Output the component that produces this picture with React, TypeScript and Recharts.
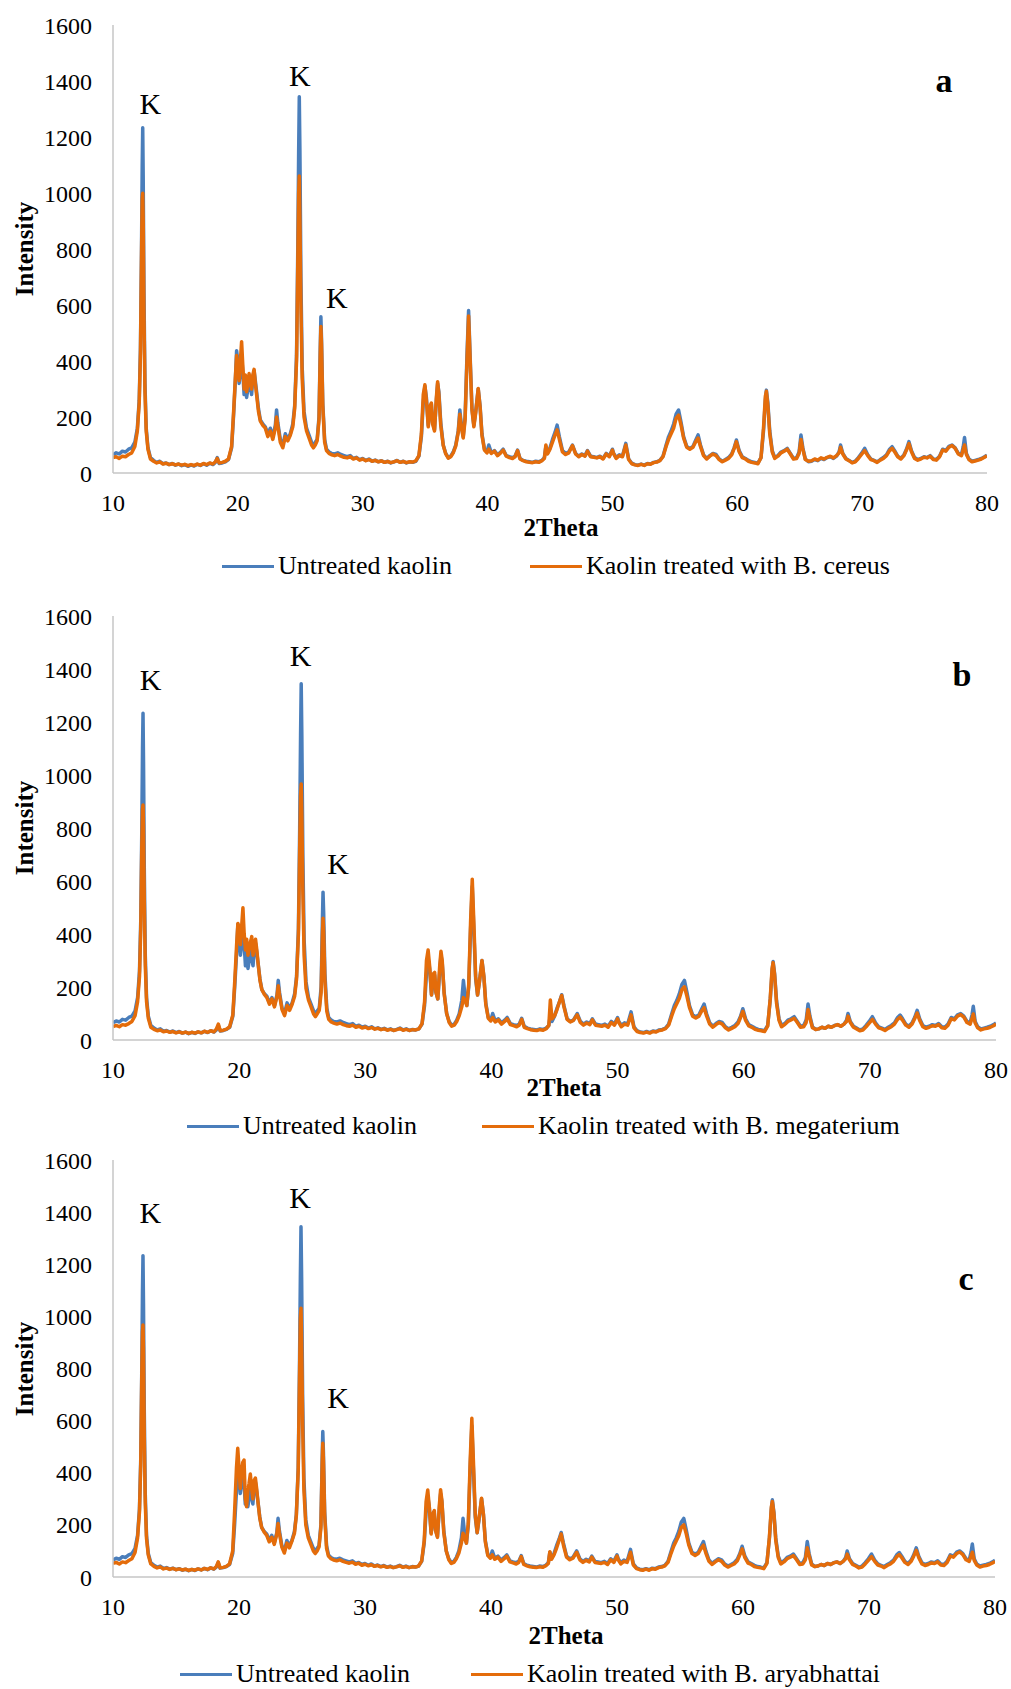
import { LineChart, Line, XAxis, YAxis, ReferenceDot } from 'recharts';

// 2Theta grid shared by all patterns (denser around the sharp peaks)
const theta = [
  10, 10.25, 10.5, 10.75, 11, 11.25, 11.5, 11.75, 11.95, 12.1,
  12.2, 12.28, 12.34, 12.38, 12.42, 12.48, 12.56, 12.66, 12.8, 13,
  13.25, 13.5, 13.75, 14, 14.25, 14.5, 14.75, 15, 15.25, 15.5,
  15.75, 16, 16.25, 16.5, 16.75, 17, 17.25, 17.5, 17.75, 18,
  18.2, 18.35, 18.5, 18.75, 19, 19.25, 19.5, 19.65, 19.8, 19.9,
  20, 20.1, 20.2, 20.3, 20.4, 20.5, 20.6, 20.7, 20.8, 20.9,
  21, 21.1, 21.2, 21.3, 21.4, 21.5, 21.65, 21.8, 22, 22.2,
  22.4, 22.6, 22.8, 23, 23.1, 23.2, 23.4, 23.6, 23.8, 24,
  24.2, 24.4, 24.55, 24.7, 24.8, 24.87, 24.92, 24.97, 25.05, 25.15,
  25.3, 25.5, 25.7, 25.9, 26.05, 26.2, 26.35, 26.5, 26.6, 26.65,
  26.7, 26.8, 26.95, 27.1, 27.3, 27.5, 27.75, 28, 28.25, 28.5,
  28.75, 29, 29.25, 29.5, 29.75, 30, 30.25, 30.5, 30.75, 31,
  31.25, 31.5, 31.75, 32, 32.25, 32.5, 32.75, 33, 33.25, 33.5,
  33.75, 34, 34.25, 34.5, 34.7, 34.85, 34.98, 35.1, 35.25, 35.4,
  35.5, 35.6, 35.75, 35.9, 36, 36.1, 36.25, 36.45, 36.65, 36.85,
  37.05, 37.25, 37.45, 37.65, 37.78, 37.9, 38.05, 38.2, 38.35, 38.48,
  38.6, 38.75, 38.9, 39.05, 39.25, 39.4, 39.55, 39.75, 39.95, 40.1,
  40.3, 40.55, 40.8, 41.05, 41.25, 41.5, 41.75, 42, 42.2, 42.4,
  42.6, 42.85, 43.1, 43.35, 43.6, 43.85, 44.1, 44.35, 44.55, 44.67,
  44.8, 45, 45.2, 45.4, 45.57, 45.75, 46, 46.25, 46.5, 46.8,
  47.05, 47.3, 47.55, 47.8, 48, 48.25, 48.5, 48.75, 49, 49.25,
  49.5, 49.75, 50, 50.1, 50.3, 50.55, 50.8, 51.07, 51.3, 51.55,
  51.8, 52.05, 52.3, 52.55, 52.8, 53.05, 53.3, 53.55, 53.8, 54.05,
  54.3, 54.5, 54.7, 54.9, 55.1, 55.3, 55.5, 55.7, 55.95, 56.2,
  56.45, 56.65, 56.86, 57.05, 57.3, 57.55, 57.8, 58.05, 58.3, 58.55,
  58.8, 59.05, 59.3, 59.55, 59.75, 59.93, 60.15, 60.4, 60.65, 60.9,
  61.15, 61.4, 61.65, 61.9, 62.1, 62.25, 62.33, 62.45, 62.6, 62.8,
  63, 63.25, 63.5, 63.75, 64, 64.25, 64.5, 64.75, 64.95, 65.1,
  65.25, 65.45, 65.7, 65.95, 66.2, 66.45, 66.7, 66.95, 67.2, 67.45,
  67.7, 67.95, 68.15, 68.27, 68.45, 68.7, 68.95, 69.2, 69.45, 69.7,
  69.95, 70.2, 70.45, 70.7, 70.95, 71.2, 71.45, 71.7, 71.95, 72.2,
  72.4, 72.6, 72.85, 73.1, 73.35, 73.55, 73.75, 73.95, 74.2, 74.45,
  74.7, 74.95, 75.2, 75.45, 75.7, 75.95, 76.2, 76.45, 76.7, 76.95,
  77.2, 77.45, 77.7, 77.95, 78.1, 78.2, 78.35, 78.55, 78.8, 79.05,
  79.3, 79.55, 79.8, 80,
];

const untreated = [
  65, 72, 68, 78, 75, 85, 90, 110, 160, 260,
  450, 780, 1100, 1233, 1050, 650, 320, 160, 90, 55,
  45, 38, 42, 33, 36, 30, 34, 28, 32, 26,
  30, 24, 29, 25, 31, 27, 33, 28, 35, 30,
  38, 55, 34, 36, 40, 48, 90, 200, 330, 437,
  400, 320, 360, 420, 360, 280, 330, 270, 300, 340,
  310, 280, 340, 365, 330, 290, 230, 190, 175, 165,
  140, 160, 130, 170, 225, 180, 120, 100, 140, 120,
  140, 175, 240, 420, 800, 1150, 1344, 1150, 700, 380,
  220, 160, 135, 110, 95, 110, 120, 200, 450, 558,
  480, 250, 120, 85, 75, 70, 68, 72, 66, 62,
  58, 62, 52, 56, 48, 52, 45, 50, 42, 46,
  40, 44, 38, 42, 36, 40, 45, 38, 42, 36,
  40, 38, 42, 60, 130, 250, 310, 270, 170, 230,
  245, 180, 155, 260, 320, 290, 180, 100, 70, 55,
  60, 75, 100, 150, 225, 170, 130, 200, 420, 580,
  420, 230, 170, 220, 300, 240, 140, 85, 75, 100,
  72, 80, 65, 75, 85, 62, 58, 55, 60, 82,
  52, 45, 42, 40, 38, 42, 40, 45, 55, 95,
  70, 90, 120, 145, 171, 130, 80, 70, 75, 100,
  70, 60, 68, 62, 80, 60, 58, 55, 60, 52,
  70, 60, 85, 70, 55, 65, 60, 106, 50, 35,
  30, 28, 32, 28, 34, 32, 38, 40, 45, 60,
  100, 130, 150, 175, 210, 225, 180, 130, 95, 88,
  95, 115, 136, 100, 65, 52, 62, 70, 66, 50,
  42, 48, 55, 68, 90, 118, 80, 58, 52, 45,
  40, 38, 35, 55, 150, 260, 296, 250, 150, 80,
  55, 62, 75, 80, 88, 70, 52, 55, 75, 136,
  90, 50, 40, 42, 48, 44, 52, 48, 55, 58,
  52, 60, 75, 100, 70, 52, 45, 38, 42, 55,
  70, 88, 65, 50, 45, 40, 48, 55, 65, 85,
  94, 80, 60, 52, 65, 85, 112, 80, 55, 48,
  52, 58, 55, 62, 50, 48, 60, 85, 80, 95,
  100, 90, 70, 65, 95, 127, 70, 50, 42, 45,
  48, 52, 58, 64,
];

const cereus = [
  55, 58, 52, 60, 58, 66, 72, 95, 150, 250,
  430, 760, 980, 999, 900, 560, 290, 150, 85, 50,
  42, 36, 40, 32, 35, 30, 33, 29, 32, 28,
  31, 26, 30, 27, 32, 28, 34, 30, 36, 32,
  40, 52, 36, 38, 42, 50, 95, 210, 340, 420,
  360, 330, 400, 469, 380, 300, 350, 290, 320, 355,
  320, 300, 350, 370, 320, 280, 220, 185, 170, 160,
  130, 150, 120, 160, 200, 170, 110, 90, 130, 115,
  135, 165, 230, 400, 750, 1000, 1061, 900, 600, 340,
  200, 150, 125, 100, 90, 100, 115, 190, 430, 523,
  460, 240, 110, 80, 70, 65, 62, 66, 60, 56,
  54, 58, 50, 54, 46, 50, 44, 48, 42, 45,
  40, 43, 38, 41, 37, 40, 44, 38, 41, 37,
  40, 39, 43, 62, 140, 280, 315, 260, 165, 240,
  250, 175, 150, 270, 326, 280, 170, 98, 68, 53,
  58, 72, 96, 145, 210, 165, 125, 190, 400, 561,
  410, 225, 165, 215, 302, 235, 135, 82, 72, 85,
  70, 78, 62, 72, 82, 60, 55, 52, 58, 80,
  50, 44, 40, 38, 37, 40, 38, 44, 52, 100,
  68, 85, 110, 135, 154, 120, 75, 66, 72, 98,
  68, 58, 66, 60, 78, 58, 56, 54, 58, 50,
  68, 58, 82, 68, 52, 62, 58, 100, 48, 33,
  29, 27, 31, 27, 33, 31, 37, 39, 44, 58,
  95, 120, 140, 160, 195, 207, 170, 125, 92, 85,
  92, 110, 125, 95, 62, 50, 60, 68, 62, 48,
  40, 46, 52, 65, 88, 112, 76, 55, 50, 42,
  38, 36, 33, 55, 160, 275, 292, 240, 140, 75,
  52, 60, 72, 78, 85, 68, 50, 52, 70, 120,
  85, 48, 42, 44, 50, 46, 54, 50, 56, 60,
  54, 62, 72, 92, 68, 50, 44, 36, 40, 52,
  66, 80, 62, 48, 44, 38, 46, 52, 62, 80,
  88, 76, 58, 50, 62, 82, 105, 76, 52, 46,
  50, 56, 54, 60, 48, 46, 58, 82, 78, 92,
  98, 88, 68, 62, 85, 100, 66, 48, 40, 43,
  46, 50, 56, 62,
];

const megaterium = [
  50, 55, 50, 58, 56, 62, 70, 92, 145, 240,
  420, 720, 870, 887, 800, 520, 280, 145, 82, 48,
  40, 35, 38, 31, 34, 29, 32, 27, 31, 26,
  30, 25, 29, 26, 31, 27, 33, 29, 35, 31,
  42, 60, 35, 37, 41, 50, 95, 220, 360, 440,
  420, 360, 430, 499, 400, 340, 380, 320, 345, 370,
  390, 320, 360, 380, 340, 290, 225, 190, 172, 160,
  135, 155, 125, 165, 205, 170, 115, 92, 130, 112,
  135, 165, 230, 400, 720, 920, 966, 850, 560, 320,
  195, 150, 125, 98, 88, 100, 112, 180, 390, 459,
  410, 220, 108, 78, 68, 64, 60, 64, 58, 54,
  52, 56, 48, 52, 45, 49, 43, 47, 41, 44,
  39, 42, 37, 40, 36, 39, 43, 37, 40, 36,
  39, 38, 42, 62, 145, 300, 340, 280, 170, 250,
  255, 180, 155, 280, 335, 300, 175, 100, 66, 52,
  56, 70, 92, 125, 160, 150, 130, 210, 450, 607,
  450, 240, 170, 220, 300, 240, 135, 82, 72, 85,
  68, 76, 60, 70, 80, 58, 54, 50, 56, 78,
  48, 43, 39, 37, 36, 39, 37, 43, 55, 151,
  80, 90, 115, 145, 168, 125, 78, 68, 74, 95,
  66, 56, 64, 58, 76, 56, 54, 52, 56, 48,
  66, 56, 80, 66, 50, 60, 56, 95, 46, 32,
  28, 26, 30, 26, 32, 30, 36, 38, 43, 56,
  92, 118, 138, 158, 190, 201, 165, 122, 90, 83,
  90, 108, 122, 92, 60, 48, 58, 66, 60, 46,
  38, 44, 50, 62, 85, 108, 74, 53, 48, 40,
  37, 35, 32, 52, 155, 270, 292, 245, 140, 74,
  50, 58, 70, 76, 82, 66, 48, 50, 66, 115,
  82, 46, 40, 42, 48, 44, 52, 48, 54, 58,
  52, 60, 70, 90, 66, 48, 42, 35, 38, 50,
  64, 78, 60, 46, 42, 36, 44, 50, 60, 78,
  86, 74, 56, 48, 60, 80, 102, 74, 50, 44,
  48, 54, 52, 58, 46, 44, 56, 80, 76, 90,
  96, 86, 66, 60, 82, 98, 64, 46, 38, 42,
  44, 48, 54, 60,
];

const aryabhattai = [
  52, 56, 50, 58, 55, 63, 70, 94, 150, 250,
  430, 760, 940, 967, 870, 540, 285, 148, 84, 50,
  41, 35, 39, 31, 34, 29, 33, 28, 31, 27,
  30, 25, 29, 26, 31, 27, 33, 29, 35, 31,
  40, 58, 35, 37, 41, 50, 100, 250, 420, 494,
  420, 340, 400, 440, 449, 300, 270, 330, 360, 395,
  340, 300, 370, 380, 340, 290, 225, 190, 172, 160,
  135, 152, 125, 165, 205, 170, 115, 92, 130, 112,
  138, 168, 235, 410, 760, 990, 1031, 900, 590, 335,
  200, 150, 125, 100, 90, 100, 115, 190, 430, 513,
  450, 235, 110, 80, 70, 65, 62, 66, 60, 56,
  53, 57, 49, 53, 45, 49, 43, 47, 41, 44,
  39, 42, 37, 40, 36, 39, 43, 37, 40, 36,
  39, 38, 42, 62, 140, 290, 334, 270, 165, 245,
  255, 178, 152, 275, 335, 295, 172, 100, 66, 52,
  56, 70, 92, 130, 168, 150, 130, 210, 450, 609,
  450, 240, 170, 225, 302, 240, 135, 82, 72, 85,
  68, 76, 60, 70, 80, 58, 54, 50, 56, 78,
  48, 43, 39, 37, 36, 39, 37, 43, 52, 97,
  68, 85, 110, 140, 165, 122, 76, 66, 72, 95,
  66, 56, 64, 58, 76, 56, 54, 52, 56, 48,
  66, 56, 80, 66, 50, 60, 56, 95, 46, 32,
  28, 26, 30, 26, 32, 30, 36, 38, 43, 56,
  92, 118, 138, 158, 190, 200, 165, 122, 90, 83,
  90, 108, 122, 92, 60, 48, 58, 66, 60, 46,
  38, 44, 50, 62, 85, 108, 74, 53, 48, 40,
  37, 35, 32, 52, 155, 268, 290, 245, 140, 74,
  50, 58, 70, 76, 82, 66, 48, 50, 66, 112,
  82, 46, 40, 42, 48, 44, 52, 48, 54, 58,
  52, 60, 70, 88, 66, 48, 42, 35, 38, 50,
  64, 78, 60, 46, 42, 36, 44, 50, 60, 78,
  86, 74, 56, 48, 60, 80, 102, 74, 50, 44,
  48, 54, 52, 58, 46, 44, 56, 80, 76, 90,
  96, 86, 66, 60, 80, 95, 64, 46, 38, 42,
  44, 48, 54, 60,
];

const xTicks = [10, 20, 30, 40, 50, 60, 70, 80];
const yTicks = [0, 200, 400, 600, 800, 1000, 1200, 1400, 1600];

// "K" (kaolinite) annotations, in data coordinates
const kMarksA = [{ x: 13.0, y: 1321 }, { x: 24.97, y: 1420 }, { x: 27.93, y: 627 }];
const kMarksB = [{ x: 12.97, y: 1362 }, { x: 24.87, y: 1451 }, { x: 27.84, y: 666 }];
const kMarksC = [{ x: 12.97, y: 1399 }, { x: 24.84, y: 1456 }, { x: 27.86, y: 691 }];

const BLUE = '#4A7EBB';
const ORANGE = '#E46C0A';
const AXIS = '#C6C6C6';
const FONT = '"Liberation Serif", "Times New Roman", serif';

type Mark = { x: number; y: number };
type PanelProps = {
  treated: number[];
  treatedName: string;
  kMarks: Mark[];
  letter: string;
  top: number;
  plotTop: number;
  plotBottom: number;
  plotRight: number;
  letterPos: [number, number];
  titlePos: [number, number];
  legendY: number;
  legendLeft: number;
  legendGap: number;
};

function LegendItem({ color, name }: { color: string; name: string }) {
  return (
    <div style={{ display: 'flex', alignItems: 'center' }}>
      <span style={{ display: 'inline-block', width: 52, height: 3, background: color, marginRight: 4 }} />
      <span>{name}</span>
    </div>
  );
}

function Panel(p: PanelProps) {
  const rows = theta.map((t, i) => ({ t, untreated: untreated[i], treated: p.treated[i] }));
  const chartH = p.plotBottom - p.top + 50;
  const plotMid = (p.plotTop + p.plotBottom) / 2;
  const centered = { position: 'absolute' as const, whiteSpace: 'nowrap' as const, lineHeight: 1, fontFamily: FONT, color: '#000' };
  return (
    <>
      <div style={{ position: 'absolute', left: 0, top: p.top }}>
        <LineChart
          width={1011}
          height={chartH}
          data={rows}
          margin={{ top: p.plotTop - p.top, right: 1011 - p.plotRight, bottom: 0, left: 0 }}
        >
          <XAxis
            dataKey="t"
            type="number"
            domain={[10, 80]}
            ticks={xTicks}
            allowDataOverflow
            height={50}
            axisLine={{ stroke: AXIS, strokeWidth: 1.5 }}
            tickLine={false}
            tickSize={0}
            tickMargin={21}
            tick={{ fill: '#000', fontSize: 24, fontFamily: FONT }}
          />
          <YAxis
            type="number"
            domain={[0, 1600]}
            ticks={yTicks}
            allowDataOverflow
            width={113}
            axisLine={{ stroke: AXIS, strokeWidth: 1.5 }}
            tickLine={false}
            tickSize={0}
            tickMargin={21}
            tick={{ fill: '#000', fontSize: 24, fontFamily: FONT }}
          />
          <Line dataKey="untreated" type="linear" stroke={BLUE} strokeWidth={3.5} dot={false} isAnimationActive={false} strokeLinejoin="round" />
          <Line dataKey="treated" type="linear" stroke={ORANGE} strokeWidth={3.5} dot={false} isAnimationActive={false} strokeLinejoin="round" />
          {p.kMarks.map((k, i) => (
            <ReferenceDot
              key={i}
              x={k.x}
              y={k.y}
              r={0}
              fill="none"
              stroke="none"
              label={{ value: 'K', position: 'center', fill: '#000', fontSize: 30, fontFamily: FONT }}
            />
          ))}
        </LineChart>
      </div>
      <div style={{ ...centered, left: 24, top: plotMid, fontSize: 25, fontWeight: 700, transform: 'translate(-50%, -50%) rotate(-90deg)' }}>
        Intensity
      </div>
      <div style={{ ...centered, left: p.titlePos[0], top: p.titlePos[1], fontSize: 25, fontWeight: 700, transform: 'translate(-50%, -50%)' }}>
        2Theta
      </div>
      <div style={{ ...centered, left: p.letterPos[0], top: p.letterPos[1], fontSize: 34, fontWeight: 700, transform: 'translate(-50%, -50%)' }}>
        {p.letter}
      </div>
      <div
        style={{
          ...centered,
          left: p.legendLeft,
          top: p.legendY,
          fontSize: 26,
          transform: 'translateY(-50%)',
          display: 'flex',
          gap: p.legendGap,
        }}
      >
        <LegendItem color={BLUE} name="Untreated kaolin" />
        <LegendItem color={ORANGE} name={p.treatedName} />
      </div>
    </>
  );
}

export default function App() {
  return (
    <div style={{ position: 'absolute', left: 0, top: 0, width: 1011, height: 1689, background: '#fff', overflow: 'hidden' }}>
      <Panel
        treated={cereus}
        treatedName="Kaolin treated with B. cereus"
        kMarks={kMarksA}
        letter="a"
        top={0}
        plotTop={25}
        plotBottom={473}
        plotRight={987}
        letterPos={[944, 81]}
        titlePos={[561, 527]}
        legendY={566}
        legendLeft={222}
        legendGap={78}
      />
      <Panel
        treated={megaterium}
        treatedName="Kaolin treated with B. megaterium"
        kMarks={kMarksB}
        letter="b"
        top={590}
        plotTop={616}
        plotBottom={1040}
        plotRight={996}
        letterPos={[962, 675]}
        titlePos={[564, 1087]}
        legendY={1126}
        legendLeft={187}
        legendGap={65}
      />
      <Panel
        treated={aryabhattai}
        treatedName="Kaolin treated with B. aryabhattai"
        kMarks={kMarksC}
        letter="c"
        top={1140}
        plotTop={1160}
        plotBottom={1577}
        plotRight={995}
        letterPos={[966, 1279]}
        titlePos={[566, 1635]}
        legendY={1674}
        legendLeft={180}
        legendGap={61}
      />
    </div>
  );
}
